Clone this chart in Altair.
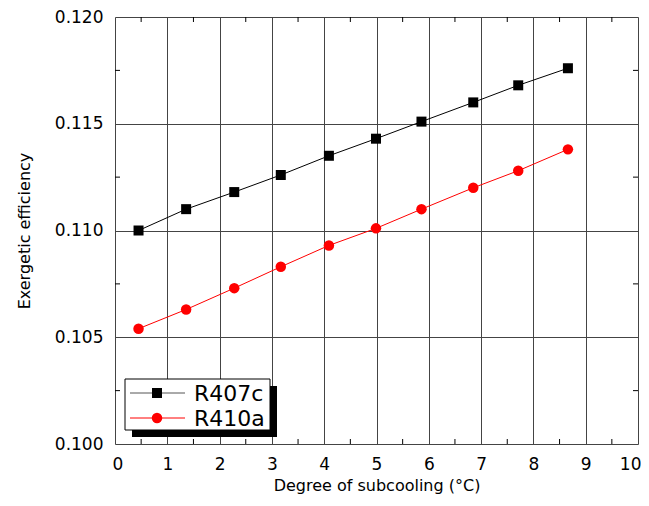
import altair as alt
import pandas as pd

# ---- data ----
subcool = [0.45, 1.36, 2.28, 3.17, 4.09, 4.99, 5.86, 6.85, 7.71, 8.66]
r407c = [0.1100, 0.1110, 0.1118, 0.1126, 0.1135, 0.1143, 0.1151, 0.1160, 0.1168, 0.1176]
r410a = [0.1054, 0.1063, 0.1073, 0.1083, 0.1093, 0.1101, 0.1110, 0.1120, 0.1128, 0.1138]
series_names = ["R407c", "R410a"]
series_colors = ["#000000", "#ff0000"]
legend_line_colors = ["#555555", "#ff0000"]
x_ticks = list(range(0, 11))
y_ticks = [0.100, 0.105, 0.110, 0.115, 0.120]
x_minor = [0.5, 1.5, 2.5, 3.5, 4.5, 5.5, 6.5, 7.5, 8.5, 9.5]
y_minor = [0.1025, 0.1075, 0.1125, 0.1175]

W, H = 523, 427
FONT = "DejaVu Sans"

rows = []
for name, vals in zip(series_names, [r407c, r410a]):
    for xv, yv in zip(subcool, vals):
        rows.append({"x": xv, "y": yv, "series": name})
df = pd.DataFrame(rows)
dfx = pd.DataFrame({"xm": x_minor})
dfy = pd.DataFrame({"ym": y_minor})

xscale = alt.Scale(domain=[0, 10], nice=False, zero=False)
yscale = alt.Scale(domain=[0.100, 0.120], nice=False, zero=False)
cscale = alt.Scale(domain=series_names, range=series_colors)

xaxis = alt.Axis(values=x_ticks, format="d", grid=True, gridColor="#444444", gridWidth=1,
                 ticks=False, domain=False, labelFont=FONT, labelFontSize=17, labelColor="black",
                 labelPadding=12, labelFlush=True, labelFlushOffset=3,
                 title="Degree of subcooling (°C)", titleFont=FONT,
                 titleFontSize=16, titleFontWeight="normal", titleColor="black", titlePadding=5)
yaxis = alt.Axis(values=y_ticks, format=".3f", grid=True, gridColor="#444444", gridWidth=1,
                 ticks=False, domain=False, labelFont=FONT, labelFontSize=17, labelColor="black",
                 labelPadding=12, labelFlush=False, title="Exergetic efficiency", titleFont=FONT,
                 titleFontSize=16, titleFontWeight="normal", titleColor="black", titlePadding=22)

base = alt.Chart(df)

lines = base.mark_line(strokeWidth=1).encode(
    x=alt.X("x:Q", scale=xscale, axis=xaxis),
    y=alt.Y("y:Q", scale=yscale, axis=yaxis),
    color=alt.Color("series:N", scale=cscale, legend=None),
    detail="series:N",
)

pts_sq = base.transform_filter(alt.datum.series == series_names[0]).mark_square(
    opacity=1, size=100).encode(
    x=alt.X("x:Q", scale=xscale),
    y=alt.Y("y:Q", scale=yscale),
    color=alt.Color("series:N", scale=cscale, legend=None),
)
pts_ci = base.transform_filter(alt.datum.series == series_names[1]).mark_circle(
    opacity=1, size=110).encode(
    x=alt.X("x:Q", scale=xscale),
    y=alt.Y("y:Q", scale=yscale),
    color=alt.Color("series:N", scale=cscale, legend=None),
)

tick_bottom = alt.Chart(dfx).mark_rule(color="black", strokeWidth=1).encode(
    x=alt.X("xm:Q", scale=xscale), y=alt.value(H), y2=alt.value(H - 5))
tick_top = alt.Chart(dfx).mark_rule(color="black", strokeWidth=1).encode(
    x=alt.X("xm:Q", scale=xscale), y=alt.value(0), y2=alt.value(5))
tick_left = alt.Chart(dfy).mark_rule(color="black", strokeWidth=1).encode(
    y=alt.Y("ym:Q", scale=yscale), x=alt.value(0), x2=alt.value(5))
tick_right = alt.Chart(dfy).mark_rule(color="black", strokeWidth=1).encode(
    y=alt.Y("ym:Q", scale=yscale), x=alt.value(W), x2=alt.value(W - 5))

# ---- legend box (drawn by hand so the line+marker sample matches) ----
one = pd.DataFrame({"a": [0]})
shadow = alt.Chart(one).mark_rect(color="black").encode(
    x=alt.value(17), x2=alt.value(162), y=alt.value(369), y2=alt.value(420))
box = alt.Chart(one).mark_rect(fill="white", stroke="black", strokeWidth=1).encode(
    x=alt.value(10), x2=alt.value(155), y=alt.value(362), y2=alt.value(413))

legend_parts = []
row_y = [376, 401]
for i, name in enumerate(series_names):
    ldf = pd.DataFrame({"series": [name]})
    ry = row_y[i]
    legend_parts.append(alt.Chart(ldf).mark_rule(color=legend_line_colors[i], strokeWidth=1).encode(
        x=alt.value(15), x2=alt.value(70), y=alt.value(ry)))
    if i == 0:
        mk = alt.Chart(ldf).mark_square(size=100, opacity=1, color=series_colors[i])
    else:
        mk = alt.Chart(ldf).mark_circle(size=110, opacity=1, color=series_colors[i])
    legend_parts.append(mk.encode(x=alt.value(42), y=alt.value(ry)))
    legend_parts.append(alt.Chart(ldf).mark_text(
        align="left", baseline="middle", font=FONT, fontSize=22, color="black").encode(
        text="series:N", x=alt.value(79), y=alt.value(ry + 1)))

chart = alt.layer(
    tick_bottom, tick_top, tick_left, tick_right, lines, pts_sq, pts_ci, shadow, box, *legend_parts
).properties(
    width=W, height=H,
    autosize=alt.AutoSizeParams(type="none"),
    padding={"left": 107, "top": 9, "right": 3, "bottom": 54},
).configure_view(stroke="black", strokeWidth=1.5).configure(background="white")

chart.save("out.html", embed_options={"renderer": "svg", "actions": False})
